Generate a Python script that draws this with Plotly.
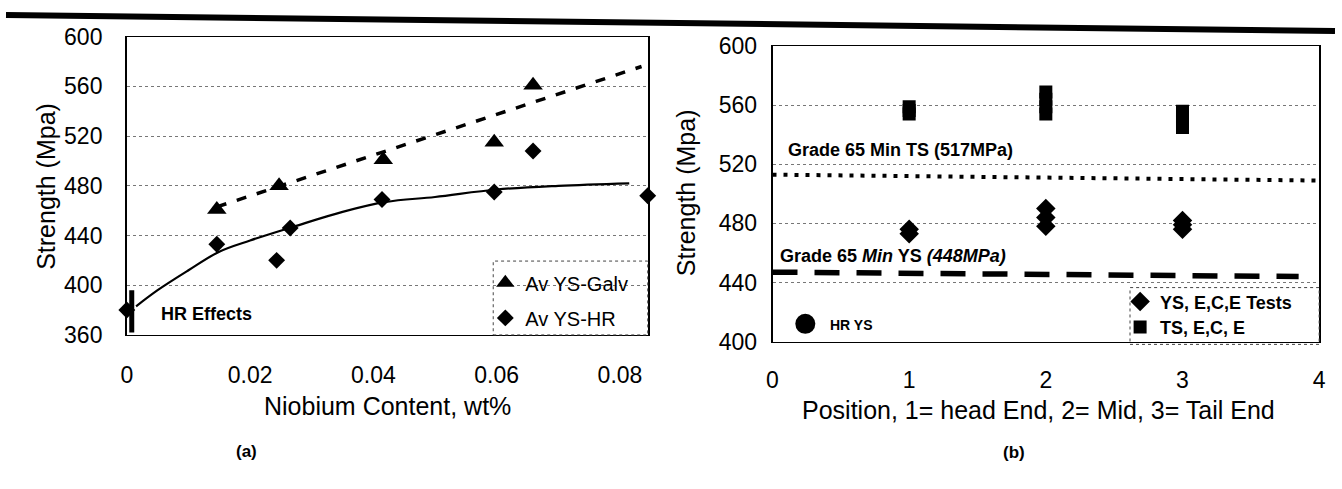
import plotly.graph_objects as go

W, H = 1342, 489

# ---------------- Panel (a) data ----------------
nb_galv = [0.0146, 0.0247, 0.0416, 0.0596, 0.0659, 0.0847]
ys_galv = [461, 480, 501, 515, 561, 581]
nb_hr = [0.0, 0.0146, 0.0243, 0.0265, 0.0414, 0.0596, 0.0659, 0.0845]
ys_hr = [380, 433, 420, 446, 469, 475, 508, 472]
galv_trend_x = [0.0146, 0.0835]
galv_trend_y = [463, 576]
hr_trend_x = [0.0015, 0.005, 0.01, 0.015, 0.02, 0.027, 0.035, 0.042, 0.05, 0.06, 0.07, 0.0815]
hr_trend_y = [383, 396, 412, 427, 436, 447, 459, 467, 471, 477, 480, 482]
hr_bar_x = [0.0008, 0.0008]
hr_bar_y = [362, 396]
a_xticks = [0, 0.02, 0.04, 0.06, 0.08]
a_xticklabels = ["0", "0.02", "0.04", "0.06", "0.08"]
a_yticks = [360, 400, 440, 480, 520, 560, 600]

# ---------------- Panel (b) data ----------------
pos_ys = [1, 1, 2, 2, 2, 3, 3, 3]
ys_tests = [473, 476, 478, 484, 490, 476, 479, 482]
pos_ts = [1, 1, 1, 2, 2, 2, 2, 3, 3, 3, 3]
ts_tests = [554, 556.5, 559, 554, 559, 564, 569, 545, 549, 552, 556]
hr_ys_pos = [0.24]
hr_ys_val = [412]
grade_ts_x = [0, 4]
grade_ts_y = [513, 509]
grade_ys_x = [0, 3.85]
grade_ys_y = [447, 444]
b_xticks = [0, 1, 2, 3, 4]
b_yticks = [400, 440, 480, 520, 560, 600]

FONT = "Liberation Sans, Arial, sans-serif"

def px(x):
    return x / W

def py(y):
    return 1 - y / H

fig = go.Figure()

# Panel (a) traces
fig.add_trace(go.Scatter(x=galv_trend_x, y=galv_trend_y, mode="lines",
                         line=dict(color="black", width=3.5, dash="10px,11px"),
                         showlegend=False, xaxis="x", yaxis="y", hoverinfo="skip"))
fig.add_trace(go.Scatter(x=hr_trend_x, y=hr_trend_y, mode="lines",
                         line=dict(color="black", width=2.2, shape="spline"),
                         showlegend=False, xaxis="x", yaxis="y", hoverinfo="skip"))
fig.add_trace(go.Scatter(x=hr_bar_x, y=hr_bar_y, mode="lines",
                         line=dict(color="black", width=5),
                         showlegend=False, xaxis="x", yaxis="y", cliponaxis=False))
fig.add_trace(go.Scatter(x=nb_galv, y=ys_galv, mode="markers", name="Av YS-Galv",
                         marker=dict(symbol="triangle-up", size=17, color="black"),
                         xaxis="x", yaxis="y", cliponaxis=False, legend="legend"))
fig.add_trace(go.Scatter(x=nb_hr, y=ys_hr, mode="markers", name="Av YS-HR",
                         marker=dict(symbol="diamond", size=13, color="black"),
                         xaxis="x", yaxis="y", cliponaxis=False, legend="legend2"))

# Panel (b) traces
fig.add_trace(go.Scatter(x=grade_ts_x, y=grade_ts_y, mode="lines",
                         line=dict(color="black", width=4, dash="4px,7px"),
                         showlegend=False, xaxis="x2", yaxis="y2", hoverinfo="skip"))
fig.add_trace(go.Scatter(x=grade_ys_x, y=grade_ys_y, mode="lines",
                         line=dict(color="black", width=5.5, dash="25px,17px"),
                         showlegend=False, xaxis="x2", yaxis="y2", hoverinfo="skip"))
fig.add_trace(go.Scatter(x=pos_ys, y=ys_tests, mode="markers", name="YS, E,C,E Tests",
                         marker=dict(symbol="diamond", size=15, color="black"),
                         xaxis="x2", yaxis="y2", legend="legend3"))
fig.add_trace(go.Scatter(x=pos_ts, y=ts_tests, mode="markers", name="TS, E,C, E",
                         marker=dict(symbol="square", size=13, color="black"),
                         xaxis="x2", yaxis="y2", legend="legend4"))
fig.add_trace(go.Scatter(x=hr_ys_pos, y=hr_ys_val, mode="markers", name="HR YS",
                         marker=dict(symbol="circle", size=20, color="black"),
                         showlegend=False, xaxis="x2", yaxis="y2"))

tickfont = dict(family=FONT, size=23, color="black")
grid = dict(showgrid=True, gridcolor="#777", gridwidth=1, griddash="dot")

def legend_cfg(x, y, size, bold):
    return dict(x=px(x), y=py(y), xanchor="left", yanchor="middle",
                bgcolor="rgba(0,0,0,0)", borderwidth=0,
                font=dict(family=FONT, size=size, color="black",
                          weight="bold" if bold else "normal"),
                itemsizing="trace")

fig.update_layout(
    width=W, height=H,
    margin=dict(l=0, r=0, t=0, b=0),
    paper_bgcolor="white", plot_bgcolor="white",
    font=dict(family=FONT, color="black"),
    xaxis=dict(domain=[px(122), px(648)], range=[0, 0.0845],
               tickvals=a_xticks, ticktext=a_xticklabels, tickfont=tickfont,
               showline=True, linecolor="black", linewidth=1, mirror=True,
               showgrid=False, zeroline=False, ticks="", ticklabelstandoff=19),
    yaxis=dict(domain=[py(340), py(25)], range=[360, 600],
               tickvals=a_yticks, tickfont=tickfont,
               showline=True, linecolor="black", linewidth=1.5, mirror=True,
               zeroline=False, ticks="", ticklabelstandoff=18, **grid),
    xaxis2=dict(domain=[px(774), px(1326)], range=[0, 4],
                tickvals=b_xticks, tickfont=tickfont,
                showline=True, linecolor="black", linewidth=1, mirror=True,
                showgrid=False, zeroline=False, ticks="", ticklabelstandoff=18,
                anchor="y2"),
    yaxis2=dict(domain=[py(347), py(35)], range=[400, 600],
                tickvals=b_yticks, tickfont=tickfont,
                showline=True, linecolor="black", linewidth=1.5, mirror=True,
                zeroline=False, ticks="", ticklabelstandoff=9, anchor="x2",
                **grid),
    legend=legend_cfg(484, 285, 20, False),
    legend2=legend_cfg(484, 322, 20, False),
    legend3=legend_cfg(1125, 305, 18, True),
    legend4=legend_cfg(1125, 332, 18, True),
)

ann = []
def add_text(text, x, y, size, bold=False, angle=0, xanchor="center", italic=False):
    ann.append(dict(text=text, x=px(x), y=py(y), xref="paper", yref="paper",
                    showarrow=False, textangle=angle, xanchor=xanchor, yanchor="middle",
                    font=dict(family=FONT, size=size, color="black",
                              weight="bold" if bold else "normal",
                              style="italic" if italic else "normal")))

add_text("Strength (Mpa)", 41, 183, 25, angle=-90)
add_text("Strength (Mpa)", 687, 190, 25, angle=-90)
add_text("Niobium Content, wt%", 385, 415, 25)
add_text("Position, 1= head End, 2= Mid, 3= Tail End", 1043, 419, 25)
add_text("(a)", 243, 463, 17, bold=True)
add_text("(b)", 1018, 464, 17, bold=True)
add_text("HR Effects", 155, 318, 18, bold=True, xanchor="left")
add_text("Grade 65 Min TS (517MPa)", 788, 145, 18, bold=True, xanchor="left")
add_text("Grade 65 <i>Min</i> YS <i>(448MPa)</i>", 780, 257, 18, bold=True, xanchor="left")
add_text("HR YS", 830, 329, 14, bold=True, xanchor="left")
fig.update_layout(annotations=ann)

shapes = [
    # scanned page rule at the top
    dict(type="line", xref="paper", yref="paper", x0=0, x1=1, y0=py(2), y1=py(19),
         line=dict(color="black", width=6)),
    # dotted legend frames
    dict(type="rect", xref="paper", yref="paper", x0=px(492), x1=px(648),
         y0=py(340), y1=py(262), line=dict(color="#444", width=1, dash="dot")),
    dict(type="rect", xref="paper", yref="paper", x0=px(1135), x1=px(1326),
         y0=py(350), y1=py(290), line=dict(color="#444", width=1, dash="dot")),
]
fig.update_layout(shapes=shapes)

fig.write_html("out.html")
